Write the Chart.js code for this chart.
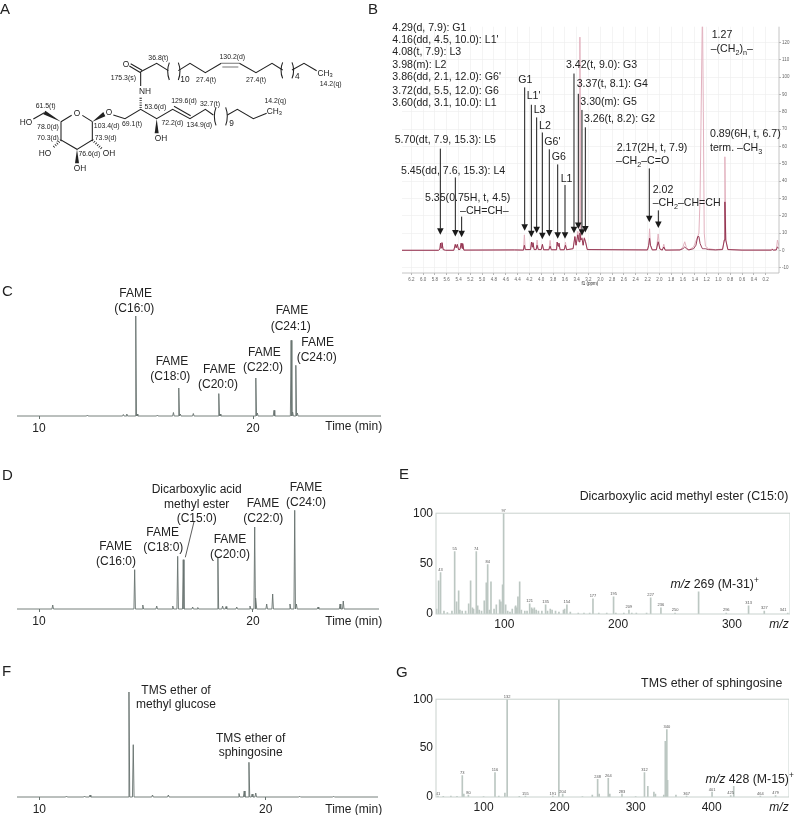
<!DOCTYPE html>
<html>
<head>
<meta charset="utf-8">
<title>Glucosylceramide analysis</title>
<script src="https://cdn.jsdelivr.net/npm/chart.js@4/dist/chart.umd.min.js"></script>
<style>
html, body { margin: 0; padding: 0; background: #fff; }
#page { position: relative; width: 802px; height: 815px; overflow: hidden; font-family: "Liberation Sans", Arial, sans-serif; color: #222; }
canvas { position: absolute; }
#structure { position: absolute; left: 0; top: 0; will-change: transform; }
#structure text { font-family: "Liberation Sans", Arial, sans-serif; fill: #222; text-anchor: middle; dominant-baseline: central; }
#structure .c { font-size: 20.7px; }
#structure .a { font-size: 25px; }
#labels { position: absolute; left: 0; top: 0; width: 802px; height: 815px; will-change: transform; }
.t { position: absolute; white-space: nowrap; transform: translate(-50%, -50%); line-height: 1; }
.l { transform: translate(0, -50%); }
.t sub, .t sup { font-size: 0.68em; line-height: 0; }
</style>
</head>
<body>
<div id="page">
<svg id="structure" width="400" height="270" viewBox="0 0 1200 810">
  <g fill="none" stroke="#222" stroke-width="3.2">
    <path d="M183 365L215 346M247 346L277 365M183 365V420L231 448L277 420V365"/>
    <path d="M133 338L100 357"/>
    <path d="M340 345L375 356L422 328L470 356L518 328L570 356L616 328L640 345"/>
    <path d="M522 319L572 347"/>
    <path d="M682 345L712 328L760 356L800 340"/>
    <path d="M388 198L422 218M392 191L426 211M422 215V258M422 215L470 190L505 212"/>
    <path d="M535 212L570 190L616 218L664 190M718 190L768 218L816 190L848 210M876 210L912 190L950 212"/>
    <path d="M508 188Q498 214 508 240M535 188Q545 214 535 240M648 322Q638 349 648 376M677 322Q687 349 677 376M848 187Q838 211 848 235M876 187Q886 211 876 235"/>
  </g>
  <path d="M664 190H718M667 201H715" stroke="#777" stroke-width="3.2" fill="none"/>
  <path d="M183 420L160 442M277 420L305 446M422 324V290" stroke="#222" stroke-width="7" stroke-dasharray="2.5 4.5" fill="none"/>
  <g fill="#222">
    <polygon points="183,365 130,343 136,332"/>
    <polygon points="277,365 310,336 316,349"/>
    <polygon points="470,356 464,400 476,400"/>
    <polygon points="231,448 225,490 237,490"/>
  </g>
  <text class="a" x="378" y="192">O</text><text class="a" x="435" y="274">NH</text>
  <text class="a" x="231" y="338">O</text><text class="a" x="327" y="337">O</text>
  <text class="a" x="78" y="365">HO</text><text class="a" x="135" y="460">HO</text>
  <text class="a" x="327" y="460">OH</text><text class="a" x="240" y="503">OH</text>
  <text class="a" x="483" y="413">OH</text>
  <text class="a" x="975" y="220">CH<tspan font-size="17" dy="5">3</tspan></text>
  <text class="a" x="823" y="333">CH<tspan font-size="17" dy="5">3</tspan></text>
  <text class="a" x="555" y="238">10</text><text class="a" x="892" y="228">4</text><text class="a" x="695" y="369">9</text>
  <text class="c" x="475" y="172">36.8(t)</text><text class="c" x="697" y="169">130.2(d)</text>
  <text class="c" x="370" y="232">175.3(s)</text><text class="c" x="618" y="239">27.4(t)</text>
  <text class="c" x="768" y="239">27.4(t)</text><text class="c" x="992" y="249">14.2(q)</text>
  <text class="c" x="552" y="302">129.6(d)</text><text class="c" x="630" y="310">32.7(t)</text>
  <text class="c" x="826" y="300">14.2(q)</text><text class="c" x="466" y="318">53.6(d)</text>
  <text class="c" x="137" y="315">61.5(t)</text><text class="c" x="396" y="371">69.1(t)</text>
  <text class="c" x="517" y="367">72.2(d)</text><text class="c" x="598" y="373">134.9(d)</text>
  <text class="c" x="144" y="379">78.0(d)</text><text class="c" x="320" y="377">103.4(d)</text>
  <text class="c" x="144" y="413">70.3(d)</text><text class="c" x="317" y="413">73.9(d)</text>
  <text class="c" x="268" y="461">76.6(d)</text>
</svg>
<canvas id="nmr" width="400" height="266" style="left:402px;top:23px"></canvas>
<canvas id="gcC" width="364" height="134" style="left:17px;top:306px"></canvas>
<canvas id="gcD" width="362" height="134" style="left:17px;top:499px"></canvas>
<canvas id="gcF" width="361" height="134" style="left:17px;top:687px"></canvas>
<canvas id="msE" width="384" height="135" style="left:406px;top:503px"></canvas>
<canvas id="msG" width="383" height="132" style="left:406px;top:689px"></canvas>
<div id="labels"></div>
</div>
<script>
// panel B, 1H NMR trace
const nmrPpm = [6.36,5.74,5.715,5.705,5.695,5.68,5.66,5.62,5.48,5.455,5.44,5.42,5.40,5.375,5.355,5.34,5.33,5.31,4.45,4.30,4.285,4.27,4.18,4.165,4.15,4.14,4.12,4.085,4.07,4.05,4.0,3.98,3.96,3.87,3.85,3.83,3.74,3.73,3.715,3.70,3.68,3.61,3.59,3.57,3.46,3.43,3.41,3.38,3.36,3.345,3.33,3.31,3.29,3.27,3.25,3.22,2.20,2.18,2.165,2.15,2.12,2.05,2.02,1.99,1.95,1.925,1.90,1.65,1.60,1.57,1.54,1.50,1.42,1.38,1.35,1.33,1.31,1.285,1.27,1.255,1.24,1.22,1.17,1.05,0.93,0.90,0.89,0.875,0.84,0.6,0.10,0.09,0.07,0.02,0.0,-0.03]
const nmrPale = [0.1,0.1,0.8,4.2,1.5,4.5,0.5,0.1,0.1,3.5,1.5,3.5,0.5,0.6,4.2,1.2,4,0.2,0.3,0.2,9,0.5,0.5,4.8,2,4.5,0.5,0.5,6,0.5,0.5,3.5,0.4,0.4,5.8,0.4,0.4,4.8,2.5,4.2,0.4,0.4,4.8,0.4,1,8,3,11,5,123,6,7.5,3,7.5,5,0.5,0.3,3,12.5,3,0.3,0.4,9.5,0.8,0.2,3.6,0.2,0.3,2,5,1.5,0.3,2,5.5,8,10,30,100,140,80,10,2.5,1,0.4,0.8,6,54,6,0.6,0.2,0.2,1,0.2,0.3,6,2]
const nmrDark = [0.1,0.1,0.8,4.2,1.5,4.5,0.5,0.1,0.1,3.5,1.5,3.5,0.5,0.6,4.2,1.2,4,0.2,0.3,0.2,3,0.5,0.5,4.8,2,4.5,0.5,0.5,3,0.5,0.5,3.5,0.4,0.4,2.5,0.4,0.4,4.8,2.5,4.2,0.4,0.4,3,0.4,1,8,3,9,5,10,6,7,3,7,5,0.5,0.3,3,7,3,0.3,0.4,5,0.8,0.2,2,0.2,0.3,1,2,1,0.3,1,3,8,8,4,2,1,1,1,1,0.5,0.3,0.5,6,28,6,0.5,0.2,0.2,0.6,0.2,0.3,2,1]
const nmrTicksX = [6.2,6.0,5.8,5.6,5.4,5.2,5.0,4.8,4.6,4.4,4.2,4.0,3.8,3.6,3.4,3.2,3.0,2.8,2.6,2.4,2.2,2.0,1.8,1.6,1.4,1.2,1.0,0.8,0.6,0.4,0.2]
const nmrTicksY = [-10,0,10,20,30,40,50,60,70,80,90,100,110,120]
const arrowPpm = [5.708,5.454,5.347,4.28,4.167,4.077,3.981,3.863,3.721,3.597,3.445,3.372,3.31,3.253,2.17,2.017]
const arrowTail = [58.7,42.1,19.5,94,84,76.7,68,58.3,49.6,37.7,102,90.3,81,71,47.3,23.1]
const arrowTip = [9.1,8,7.6,11.4,7.6,9.9,6.5,8,6.8,6.8,9.9,12.3,8.5,10.4,16.3,12.9]

// panels C, D, F, GC traces
const timeTicks = [10, 20]
const cTimes = [12.26,13.94,14.10,14.52,14.58,15.53,16.28,16.53,16.6,17.21,18.40,18.46,20.13,20.2,20.98,21.78,21.85,22.0,22.07]
const cHeights = [1,1.5,2,100,2,1,3.5,28,2,2.5,22.4,2,38,3,5.7,75.7,4,50.7,3]
const dTimes = [10.64,14.47,14.85,15.50,16.25,16.48,16.74,17.18,17.42,18.36,18.58,18.74,19.24,19.86,20.08,20.14,20.64,20.92,21.73,21.95,22.03,23.04,24.07,24.22]
const dHeights = [4,39.3,4,3,3,52.7,49.3,2,1.5,51,3,2.5,2,3,82,11,5,15,5,98.7,5,2,5,8]
const fTimes = [11.2,12.0,12.24,13.96,14.15,15.0,15.7,18.82,19.05,19.26,19.4,19.56,21.5,23.0]
const fHeights = [1,1,2,105,52.3,2,2,3.5,6,34.7,3,4,0.8,0.8]

// panels E, G, mass spectra
const eMz = [40.5,42.3,44,47,50,54,56.4,58.1,59.9,61,63,66,68.7,70.4,72,73,75.4,76.6,78,80,82.4,84.2,85.4,87,88.3,91,93,95.9,97,98.5,99.4,101.2,103,105,107,109.7,110,111,112,113.5,115,118,120,122.3,124,125,126.4,128,130,133,136.3,138,140.4,142,145,148,152,153,155,158,165,170,175,177.9,183,190,196,198,205,209.5,212,216,225,228.6,237.6,250,270.7,295,314.6,328.4,349]
const ePct = [5,33,41,3,1.5,3,62,12,23,4,3,3,10,33,6,5,62,8,4,3,13,31,49,4,32,5,9,14,12,29,100,9,3,2,5,7,8,6,17,32,4,3,3,10,6,5,6,4,3,3,9,3,5,4,3,2,4,5,9,2,1,1,1,15,1,1,17,1,1,4,1,1,1,16,6,1,22,1,8,3,1]
const gMz = [40,47,57,65,72,74,80,100,115,120,128,131,147,155,191,199,204,230,243,250,252,264,266,282,300,311.6,316,324,326,337,339,341,342,353,367,400.5,425,429,464,484]
const gPct = [1,0.8,1,0.8,22,3,2,0.5,25,1,4,100,0.8,1,1,100,3,0.5,2,18,3,19,3,3,0.5,25,11,5,3,2,57,69,17,2,1,5,1.5,11,1,1.5]
const massTicksE = [100, 200, 300]
const massTicksG = [100, 200, 300, 400]
const pctTicks = [0, 50, 100]
const eLabelAt = [44,56.4,75.4,85.4,99.4,122.3,136.3,155,177.9,196,209.5,228.6,237.6,250,295,314.6,328.4,345]
const eLabelPct = [41,62,62,49,100,10,9,9,15,17,4,16,6,1,1,8,3,1]
const eLabelText = ['43','55','74','84','97','121','135','154','177','195','209','227','236','250','296','313','327','341']
const gLabelAt = [40,72,80,115,131,155,191,204,250,264,282,311.6,341,367,400.5,425,464,484]
const gLabelPct = [1,22,2,25,100,1,1,3,18,19,3,25,69,1,5,1.5,1,1.5]
const gLabelText = ['41','73','80','116','132','155','191','204','248','264','283','312','340','367','401','425','464','479']

const pageFont = '"Liberation Sans", Arial, sans-serif'
const labels = document.getElementById('labels')

const addText = (x, y, html, size = 12, left = false) => {
    const el = document.createElement('div')
    el.className = left ? 't l' : 't'
    el.style.left = x + 'px'
    el.style.top = y + 'px'
    el.style.fontSize = size + 'px'
    el.innerHTML = html
    labels.appendChild(el)
}

// stems on a flat baseline, one triangle per peak
const buildTrace = (times, heights, halfWidth, lo, hi) => {
    const pts = [{x: lo, y: 0}]
    times.forEach((t, i) => {
        pts.push({x: t - halfWidth, y: 0}, {x: t, y: heights[i]}, {x: t + halfWidth, y: 0})
    })
    pts.push({x: hi, y: 0})
    return pts
}

const chromatogram = (id, times, heights, xMin, xMax, plotHeight) => new Chart(document.getElementById(id), {
    type: 'scatter',
    data: {datasets: [{
        data: buildTrace(times, heights, 0.035, xMin, xMax),
        showLine: true,
        borderColor: '#66726e',
        borderWidth: 0.9,
        pointRadius: 0,
        tension: 0,
        clip: false
    }]},
    options: {
        responsive: false,
        animation: false,
        layout: {padding: 0},
        plugins: {legend: {display: false}, tooltip: {enabled: false}},
        scales: {
            x: {
                type: 'linear', min: xMin, max: xMax,
                afterBuildTicks: ax => { ax.ticks = timeTicks.map(v => ({value: v})) },
                afterFit: ax => { ax.height = 134 - plotHeight },
                grid: {drawOnChartArea: false, tickLength: 3, color: '#66726e'},
                border: {display: false},
                ticks: {font: {family: pageFont, size: 12}, color: '#222', padding: 2, maxRotation: 0}
            },
            y: {display: false, min: 0, max: plotHeight}
        }
    }
})

const peakLabels = (at, pct, text) => ({
    id: 'peakLabels',
    afterDatasetsDraw(chart) {
        const {ctx, scales: {x, y}, chartArea} = chart
        ctx.save()
        ctx.font = '4px ' + pageFont
        ctx.fillStyle = '#555'
        ctx.textAlign = 'center'
        at.forEach((v, i) => ctx.fillText(text[i], x.getPixelForValue(v), y.getPixelForValue(pct[i]) - 1.5))
        ctx.strokeStyle = '#c9d2ce'
        ctx.lineWidth = 1
        ctx.strokeRect(chartArea.left, chartArea.top, chartArea.width, chartArea.height)
        ctx.restore()
    }
})

const spectrum = (id, mz, pct, xMin, xMax, ticks, labelPlugin) => new Chart(document.getElementById(id), {
    type: 'bar',
    data: {datasets: [{
        data: mz.map((m, i) => ({x: m, y: pct[i]})),
        backgroundColor: '#bcc7c2',
        barThickness: 1
    }]},
    options: {
        responsive: false,
        animation: false,
        layout: {padding: {top: 8, right: 0}},
        plugins: {legend: {display: false}, tooltip: {enabled: false}},
        scales: {
            x: {
                type: 'linear', offset: false, min: xMin, max: xMax,
                afterBuildTicks: ax => { ax.ticks = ticks.map(v => ({value: v})) },
                afterFit: ax => { ax.height = 24 },
                grid: {display: false, drawTicks: false},
                border: {display: false},
                ticks: {font: {family: pageFont, size: 12}, color: '#222', padding: 3, maxRotation: 0}
            },
            y: {
                min: 0, max: 100,
                afterBuildTicks: ax => { ax.ticks = pctTicks.map(v => ({value: v})) },
                afterFit: ax => { ax.width = 30 },
                grid: {display: false, drawTicks: false},
                border: {display: false},
                ticks: {font: {family: pageFont, size: 12}, color: '#222', padding: 3}
            }
        }
    },
    plugins: [labelPlugin]
})

const nmrArrows = {
    id: 'nmrArrows',
    afterDraw(chart) {
        const {ctx, scales: {x, y}, chartArea} = chart
        ctx.save()
        ctx.strokeStyle = '#b5b5b5'
        ctx.lineWidth = 0.8
        ctx.beginPath()
        ctx.moveTo(chartArea.right, chartArea.top)
        ctx.lineTo(chartArea.right, chartArea.bottom)
        ctx.moveTo(chartArea.left, chartArea.bottom)
        ctx.lineTo(chartArea.right, chartArea.bottom)
        ctx.stroke()
        ctx.strokeStyle = '#1a1a1a'
        ctx.fillStyle = '#1a1a1a'
        ctx.lineWidth = 1
        arrowPpm.forEach((p, i) => {
            const px = x.getPixelForValue(p)
            const top = y.getPixelForValue(arrowTail[i])
            const tip = y.getPixelForValue(arrowTip[i])
            ctx.beginPath()
            ctx.moveTo(px, top)
            ctx.lineTo(px, tip - 6)
            ctx.stroke()
            ctx.beginPath()
            ctx.moveTo(px - 3.3, tip - 6.5)
            ctx.lineTo(px + 3.3, tip - 6.5)
            ctx.lineTo(px, tip)
            ctx.closePath()
            ctx.fill()
        })
        ctx.restore()
    }
}

const nmrLine = (values, color, width) => ({
    data: nmrPpm.map((p, i) => ({x: p, y: values[i]})),
    showLine: true,
    borderColor: color,
    borderWidth: width,
    pointRadius: 0,
    tension: 0
})

new Chart(document.getElementById('nmr'), {
    type: 'scatter',
    data: {datasets: [nmrLine(nmrDark, '#8d2a48', 0.9), nmrLine(nmrPale, '#e2b2bf', 1)]},
    options: {
        responsive: false,
        animation: false,
        layout: {padding: 0},
        plugins: {legend: {display: false}, tooltip: {enabled: false}},
        scales: {
            x: {
                type: 'linear', reverse: true, min: -0.026, max: 6.357,
                afterBuildTicks: ax => { ax.ticks = nmrTicksX.map(v => ({value: v})) },
                afterFit: ax => { ax.height = 16 },
                grid: {color: '#efefef', lineWidth: 0.7, tickLength: 2, tickColor: '#999'},
                border: {display: false},
                ticks: {font: {family: pageFont, size: 4.5}, color: '#666', padding: 2, maxRotation: 0, autoSkip: false, callback: v => v.toFixed(1)}
            },
            y: {
                position: 'right', min: -13, max: 129,
                afterBuildTicks: ax => { ax.ticks = nmrTicksY.map(v => ({value: v})) },
                afterFit: ax => { ax.width = 23 },
                grid: {color: '#efefef', lineWidth: 0.7, tickLength: 2, tickColor: '#999'},
                border: {display: false},
                ticks: {font: {family: pageFont, size: 4.5}, color: '#666', padding: 1, autoSkip: false}
            }
        }
    },
    plugins: [nmrArrows]
})

chromatogram('gcC', cTimes, cHeights, 8.97, 25.98, 110)
chromatogram('gcD', dTimes, dHeights, 8.97, 25.89, 110)
chromatogram('gcF', fTimes, fHeights, 9.015, 24.96, 110)
spectrum('msE', eMz, ePct, 40, 351, massTicksE, peakLabels(eLabelAt, eLabelPct, eLabelText))
spectrum('msG', gMz, gPct, 37.4, 501.7, massTicksG, peakLabels(gLabelAt, gLabelPct, gLabelText))

// panel letters
addText(0, 8, 'A', 15, true)
addText(368, 8, 'B', 15, true)
addText(2, 290, 'C', 15, true)
addText(2, 474, 'D', 15, true)
addText(399, 473, 'E', 15, true)
addText(2, 670, 'F', 15, true)
addText(396, 671, 'G', 15, true)

// panel B labels
const bLeft = [
    [392.3, 26.7, '4.29(d, 7.9): G1'], [392.3, 38.7, "4.16(dd, 4.5, 10.0): L1'"], [392.3, 51, '4.08(t, 7.9): L3'],
    [392.3, 63.7, '3.98(m): L2'], [392.3, 76, "3.86(dd, 2.1, 12.0): G6'"], [392.3, 90, '3.72(dd, 5.5, 12.0): G6'],
    [392.3, 102.3, '3.60(dd, 3.1, 10.0): L1'], [518.3, 79.3, 'G1'], [526.7, 95, "L1'"], [533.7, 109, 'L3'],
    [539, 125.3, 'L2'], [544.3, 140.7, "G6'"], [551.7, 156.3, 'G6'], [560.7, 177.7, 'L1'],
    [566, 64, '3.42(t, 9.0): G3'], [576.7, 83.3, '3.37(t, 8.1): G4'], [580.3, 100.7, '3.30(m): G5'], [584, 118.3, '3.26(t, 8.2): G2'],
    [394.7, 139, '5.70(dt, 7.9, 15.3): L5'], [401, 169.7, '5.45(dd, 7.6, 15.3): L4'], [425, 197.3, '5.35(0.75H, t, 4.5)'],
    [460, 209.7, '–CH=CH–'], [711.7, 34.3, '1.27'], [710.7, 47.7, '–(CH<sub>2</sub>)<sub>n</sub>–'],
    [710, 133.3, '0.89(6H, t, 6.7)'], [710, 146.7, 'term. –CH<sub>3</sub>'], [616.7, 147.3, '2.17(2H, t, 7.9)'],
    [616, 159.7, '–CH<sub>2</sub>–C=O'], [652.7, 189.3, '2.02'], [652.7, 201.7, '–CH<sub>2</sub>–CH=CH']
]
bLeft.forEach(([x, y, s]) => addText(x, y, s, 10.6, true))

// panel C labels
addText(135.7, 292.7, 'FAME'); addText(134.3, 308, '(C16:0)')
addText(172, 360.7, 'FAME'); addText(170.3, 375.7, '(C18:0)')
addText(219.3, 369.3, 'FAME'); addText(218, 384.3, '(C20:0)')
addText(264.3, 352, 'FAME'); addText(263, 367.3, '(C22:0)')
addText(292, 310.3, 'FAME'); addText(290.7, 325.7, '(C24:1)')
addText(317.7, 342, 'FAME'); addText(316.7, 357.3, '(C24:0)')
addText(353.7, 425.7, 'Time (min)')

// panel D labels
addText(115.7, 546, 'FAME'); addText(116, 561.3, '(C16:0)')
addText(162.7, 532.3, 'FAME'); addText(163.3, 547.3, '(C18:0)')
addText(196.7, 489.3, 'Dicarboxylic acid'); addText(196.7, 504, 'methyl ester'); addText(196.7, 518.3, '(C15:0)')
addText(230, 539, 'FAME'); addText(230, 554, '(C20:0)')
addText(263, 503.3, 'FAME'); addText(263.3, 518.3, '(C22:0)')
addText(306, 486.7, 'FAME'); addText(306, 501.7, '(C24:0)')
addText(353.7, 621.3, 'Time (min)')

// panel F labels
addText(176, 689.7, 'TMS ether of'); addText(176, 704, 'methyl glucose')
addText(250.7, 737.7, 'TMS ether of'); addText(250.7, 752, 'sphingosine')
addText(353.7, 809, 'Time (min)')

// panels E and G labels
addText(684, 496, 'Dicarboxylic acid methyl ester (C15:0)', 12.4)
addText(714.7, 584, '<i>m/z</i> 269 (M-31)<sup>+</sup>', 12.3)
addText(779, 623.7, '<i>m/z</i>')
addText(711.7, 683.3, 'TMS ether of sphingosine', 12.4)
addText(749.7, 779.3, '<i>m/z</i> 428 (M-15)<sup>+</sup>', 12.3)
addText(779, 807.3, '<i>m/z</i>')
addText(590, 284, 'f1 (ppm)', 4.5)

// leader line for the C15:0 peak
const leader = document.createElementNS('http://www.w3.org/2000/svg', 'svg')
leader.setAttribute('width', 802)
leader.setAttribute('height', 815)
leader.style.cssText = 'position:absolute;left:0;top:0'
leader.innerHTML = '<line x1="194" y1="521.7" x2="185.3" y2="557.3" stroke="#333" stroke-width="0.8"/>'
labels.appendChild(leader)
</script>
</body>
</html>
